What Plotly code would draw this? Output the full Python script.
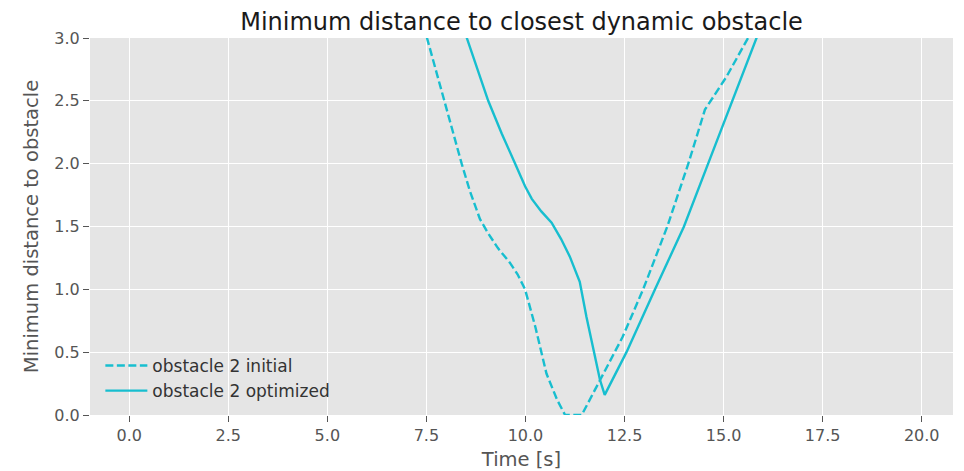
import plotly.graph_objects as go

# --- data ---
t_initial = [7.2, 7.51, 7.94, 8.39, 8.6, 8.85, 9.05, 9.3, 9.61, 9.8, 9.99, 10.25, 10.53,
             10.8, 11.0, 11.42, 11.92, 12.45, 12.97, 13.58, 14.11, 14.53, 15.07, 15.62, 15.9]
d_initial = [3.36, 3.0, 2.5, 2.0, 1.78, 1.56, 1.45, 1.33, 1.21, 1.12, 1.0, 0.7, 0.33,
             0.12, 0.0, 0.0, 0.30, 0.62, 1.0, 1.5, 2.0, 2.43, 2.69, 3.0, 3.16]

t_optimized = [8.3, 8.52, 9.06, 9.4, 9.74, 9.99, 10.16, 10.4, 10.66, 10.9, 11.12, 11.37,
               11.54, 11.88, 12.0, 12.55, 13.27, 14.0, 14.61, 15.22, 15.83, 16.1]
d_optimized = [3.3, 3.0, 2.5, 2.24, 2.0, 1.82, 1.72, 1.62, 1.53, 1.40, 1.26, 1.06,
               0.78, 0.28, 0.16, 0.5, 1.0, 1.5, 2.0, 2.5, 3.0, 3.22]

x_ticks = [0.0, 2.5, 5.0, 7.5, 10.0, 12.5, 15.0, 17.5, 20.0]
y_ticks = [0.0, 0.5, 1.0, 1.5, 2.0, 2.5, 3.0]

title = "Minimum distance to closest dynamic obstacle"
x_label = "Time [s]"
y_label = "Minimum distance to obstacle"

COLOR = "#17becf"
FONT = "DejaVu Sans"

fig = go.Figure()
fig.add_trace(go.Scatter(x=t_initial, y=d_initial, mode="lines", name="obstacle 2 initial",
                         line=dict(color=COLOR, width=2.4, dash="8px,3.5px")))
fig.add_trace(go.Scatter(x=t_optimized, y=d_optimized, mode="lines", name="obstacle 2 optimized",
                         line=dict(color=COLOR, width=2.4)))

# the page body adds an 8px offset, so the figure is laid out 8px up/left
fig.update_layout(
    width=964, height=471,
    margin=dict(l=82, r=19, t=30, b=64, autoexpand=False),
    paper_bgcolor="white",
    plot_bgcolor="#E5E5E5",
    font=dict(family=FONT, color="#555555", size=16),
    title=dict(text=title, x=0.5, xref="paper", xanchor="center", y=1 - 14 / 471, yref="container",
               yanchor="middle", font=dict(family=FONT, size=24, color="#1a1a1a")),
    showlegend=True,
    legend=dict(x=0.012, y=0.016, xanchor="left", yanchor="bottom", bgcolor="rgba(0,0,0,0)",
                borderwidth=0, itemwidth=42,
                font=dict(family=FONT, size=17, color="#333333")),
    xaxis=dict(range=[-0.99, 20.79], tickvals=x_ticks, ticktext=[f"{v:.1f}" for v in x_ticks],
               showgrid=True, gridcolor="white", gridwidth=1.3, zeroline=False, showline=False,
               ticks="outside", ticklen=6, tickwidth=1.2, tickcolor="#555555",
               tickfont=dict(family=FONT, size=16, color="#555555"),
               title=dict(text=x_label, font=dict(family=FONT, size=19.5, color="#555555"), standoff=8)),
    yaxis=dict(range=[0, 3.0], tickvals=y_ticks, ticktext=[f"{v:.1f}" for v in y_ticks],
               showgrid=True, gridcolor="white", gridwidth=1.3, zeroline=False, showline=False,
               ticks="outside", ticklen=6, tickwidth=1.2, tickcolor="#555555",
               tickfont=dict(family=FONT, size=16, color="#555555"),
               title=dict(text=y_label, font=dict(family=FONT, size=19.5, color="#555555"), standoff=10)),
)

fig.write_html("out.html")
